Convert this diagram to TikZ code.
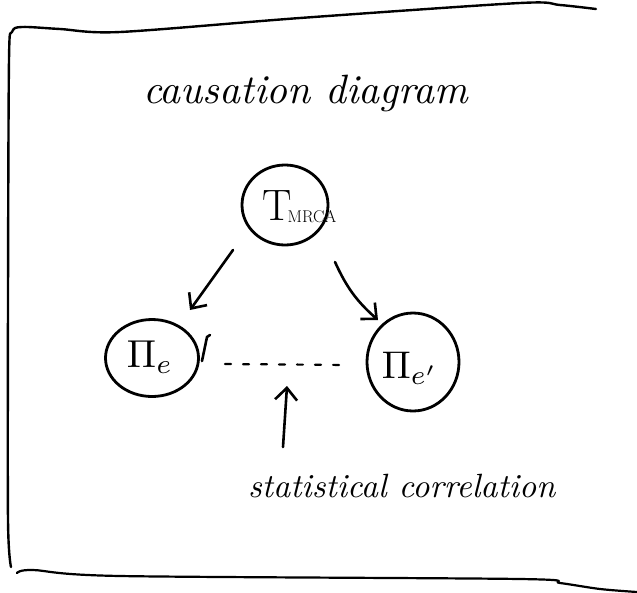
\documentclass[tikz,border=0pt]{standalone}
\usetikzlibrary{arrows.meta,shapes.geometric}
\begin{document}
\begin{tikzpicture}[x=1pt,y=-1pt,line cap=round,line join=round,
  ink/.style={line width=2.6pt,black},
  bubble/.style={ellipse,draw,line width=2.8pt,inner sep=0pt},
  arr/.style={ink,-{Straight Barb[length=12pt,width=22pt,line width=2.6pt]}},
  hand/.style={inner sep=0pt,anchor=base west}]
\useasboundingbox (0,0) rectangle (637,592);
% frame
\draw[line width=2.4pt] plot[smooth,tension=0.5] coordinates
  {(596,9) (560,5) (520,3) (300,18) (120,32) (60,29) (22,27) (12,32) (9,60) (8,300) (8,520) (11,567)};
\draw[line width=2.2pt] plot[smooth,tension=0.5] coordinates
  {(17,573) (33,570) (120,576) (520,579) (560,583) (600,589) (637,592)};
% title
\node[hand] (title) at (143,103) {\resizebox{325pt}{!}{\itshape causation diagram}};
% nodes
\node[bubble,minimum width=86pt,minimum height=80pt] (tm) at (285,205) {};
\node[inner sep=0pt,anchor=base west] (tml) at (262,220)
  {\fontsize{44}{44}\selectfont T\kern-4pt\raisebox{-2pt}{\fontsize{17}{17}\selectfont MRCA}};
\node[bubble,minimum width=93pt,minimum height=77pt] (pe) at (152,358) {};
\node[inner sep=0pt] (pel) at (150,357) {\resizebox{46pt}{!}{$\Pi_e$}};
\draw[ink] (202,361) -- (207,337) -- (210,335);
\node[bubble,minimum width=92pt,minimum height=98pt] (pf) at (413,362) {};
\node[inner sep=0pt] (pfl) at (410,368) {\resizebox{56pt}{!}{$\Pi_{e'}$}};
% connectors
\coordinate (a1) at (233,250);
\coordinate (a2) at (190,310);
\coordinate (b1) at (335,262);
\coordinate (b2) at (378,320);
\draw[arr] (a1) -- (a2);
\draw[arr] (b1) to[bend right=12] (b2);
\coordinate (d1) at (225,364);
\coordinate (d2) at (348,365);
\draw[ink,line width=2.2pt,dash pattern=on 6pt off 12pt] (d1) -- (d2);
% correlation label
\node[hand] (corr) at (248,497) {\resizebox{307pt}{!}{\itshape statistical correlation}};
\coordinate (u1) at (283,447);
\coordinate (u2) at (287,386);
\draw[arr] (u1) -- (u2);
\end{tikzpicture}
\end{document}
